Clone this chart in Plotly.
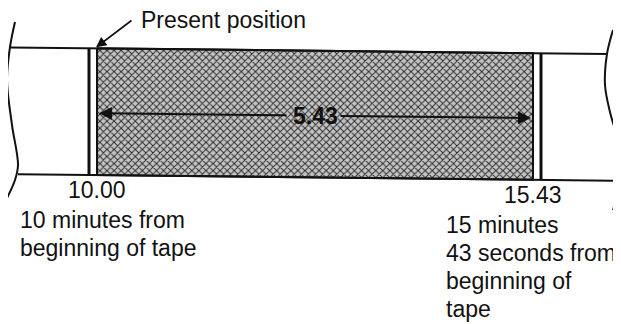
import plotly.graph_objects as go

W, H = 621, 324
OFF = 8  # page body margin in the browser

# positions on the tape, minutes from beginning of tape
marks = [10.0, 15 + 43 / 60]
mark_labels = ["10.00", "15.43"]
mark_notes = [
    ["10 minutes from", "beginning of tape"],
    ["15 minutes", "43 seconds from", "beginning of", "tape"],
]
span_label = "5.43"
pointer_label = "Present position"

FONT = "Liberation Sans, Arial, sans-serif"

# layout of the drawing: minutes on x, pixel rows on y
PX_PER_MIN = (533 - 97) / (marks[1] - marks[0])
X_LO = marks[0] - 97 / PX_PER_MIN
TILT = 0.011


def mx(p):
    return X_LO + p / PX_PER_MIN


def px(m):
    return (m - X_LO) * PX_PER_MIN


def top(p):
    return 47.3 + TILT * p


def bot(p):
    return 174.0 + TILT * p


fig = go.Figure()

# shaded stretch of tape between the two positions
x0, x1 = marks
p0, p1 = px(x0), px(x1)
fig.add_trace(go.Scatter(
    x=[x0, x1, x1, x0, x0],
    y=[top(p0), top(p1), bot(p1), bot(p0), top(p0)],
    mode="lines", fill="toself",
    line=dict(color="#111", width=2),
    fillcolor="#b4b4b4",
    fillpattern=dict(shape="x", size=5, solidity=0.35,
                     fgcolor="#2a2a2a", bgcolor="#c4c4c4", fillmode="replace"),
    hoverinfo="skip",
))

# tape edges
for a, b, f in [(10, 607, top), (18, 624, bot)]:
    fig.add_trace(go.Scatter(
        x=[mx(a), mx(b)], y=[f(a), f(b)], mode="lines",
        line=dict(color="#111", width=2), hoverinfo="skip"))

# thin white marker strips at each position
for m, off in [(x0, -8), (x1, 8)]:
    p = px(m) + off
    fig.add_trace(go.Scatter(
        x=[mx(p), mx(p)], y=[top(p), bot(p)], mode="lines",
        line=dict(color="#111", width=3), hoverinfo="skip"))

# torn ends of the tape
left_edge = [(15, 22), (10, 47), (7, 80), (12, 125), (18, 165), (15, 180), (7, 198)]
right_edge = [(613, 30), (607, 54), (605, 85), (610, 112), (618, 140), (623, 165),
              (621, 180), (613, 210)]
for edge in (left_edge, right_edge):
    fig.add_trace(go.Scatter(
        x=[mx(p) for p, _ in edge], y=[q for _, q in edge],
        mode="lines", line=dict(color="#111", width=2, shape="spline"),
        hoverinfo="skip"))

ann = []

# span arrow with label in the gap
mid_m = (x0 + x1) / 2
mid_p = px(mid_m)


def mid(p):
    return (top(p) + bot(p)) / 2 + 1.5


for tip, tail in [(p0 + 2, mid_p - 27), (p1 - 2, mid_p + 24)]:
    ann.append(dict(
        x=mx(tip), y=mid(tip), ax=mx(tail), ay=mid(tail),
        xref="x", yref="y", axref="x", ayref="y", text="",
        showarrow=True, arrowhead=2, arrowsize=1.3, arrowwidth=2,
        arrowcolor="#111"))
ann.append(dict(
    x=mid_m, y=mid(mid_p), text="<b>" + span_label + "</b>", showarrow=False,
    font=dict(family=FONT, size=23, color="#111"), xanchor="center", yanchor="middle"))

# pointer to present position
ann.append(dict(
    x=mx(p0 - 1), y=top(p0) - 1, ax=37, ay=-28, text="",
    showarrow=True, arrowhead=2, arrowsize=1.3, arrowwidth=1.6, arrowcolor="#111"))
ann.append(dict(
    x=mx(139), y=20, text=pointer_label, showarrow=False, xanchor="left",
    yanchor="middle", font=dict(family=FONT, size=23, color="#111")))

# position labels and notes
for m, lab, note, dx in zip(marks, mark_labels, mark_notes, [-79, -89]):
    p = px(m)
    ann.append(dict(
        x=m, y=bot(p) + 15, text=lab, showarrow=False, xanchor="center",
        yanchor="middle", font=dict(family=FONT, size=23, color="#111")))
    for i, line in enumerate(note):
        ann.append(dict(
            x=mx(p + dx), y=bot(p) + 45 + 28 * i, text=line, showarrow=False,
            xanchor="left", yanchor="middle",
            font=dict(family=FONT, size=23, color="#111")))

fig.update_layout(
    width=W, height=H,
    margin=dict(l=0, r=0, t=0, b=0),
    paper_bgcolor="white", plot_bgcolor="white",
    showlegend=False,
    xaxis=dict(range=[mx(OFF), mx(W + OFF)], visible=False, fixedrange=True),
    yaxis=dict(range=[H + OFF, OFF], visible=False, fixedrange=True),
    annotations=ann,
)

fig.write_html("out.html")
